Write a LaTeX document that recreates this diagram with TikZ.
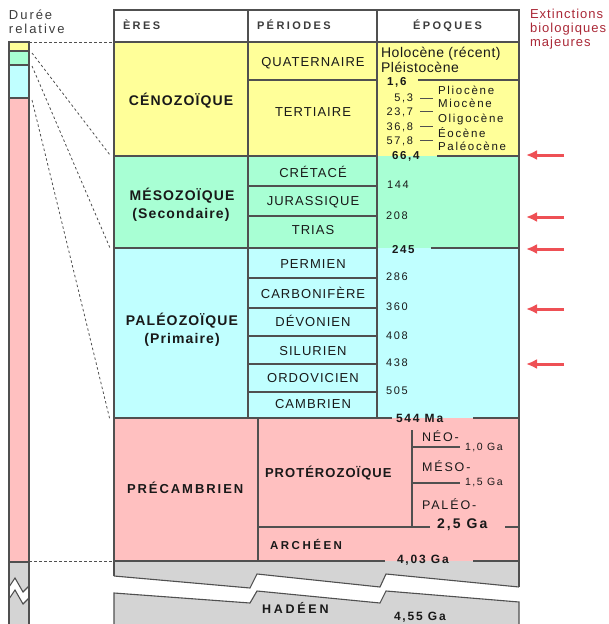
\documentclass[tikz,border=0pt]{standalone}
\usepackage{fontspec}
\setmainfont{Liberation Sans}
\newfontfamily\fA[LetterSpace=8]{Liberation Sans}
\newfontfamily\fB[LetterSpace=15]{Liberation Sans}
\newfontfamily\fC[LetterSpace=22]{Liberation Sans}
\newfontfamily\fD[LetterSpace=4]{Liberation Sans}
\newcommand{\myfs}[1]{\fontsize{#1}{#1}\selectfont}
\usetikzlibrary{arrows.meta}
\definecolor{cyel}{RGB}{255,255,153}
\definecolor{cgrn}{RGB}{168,255,212}
\definecolor{ccyn}{RGB}{192,255,255}
\definecolor{cpnk}{RGB}{255,192,192}
\definecolor{cgry}{RGB}{212,212,212}
\definecolor{cln}{RGB}{80,80,80}
\definecolor{cred}{RGB}{238,80,85}
\definecolor{cext}{RGB}{170,40,55}
\definecolor{ctxt}{RGB}{25,25,25}
\definecolor{chd}{RGB}{60,60,60}
\tikzset{
  lbl/.style={inner sep=0pt, outer sep=0pt, text=ctxt},
  tline/.style={draw=cln, line width=1.1pt},
  dline/.style={draw=cln, line width=0.8pt, dash pattern=on 2.5pt off 2.5pt},
  redarrow/.style={draw=cred, line width=3pt, -{Latex[length=11pt,width=10pt]}},
}
\begin{document}
\begin{tikzpicture}[x=1pt,y=-1pt]
\useasboundingbox (0,0) rectangle (609,624);
% ---------- fills of main table
\fill[white] (114,10) rectangle (519,42);
\fill[cyel] (114,42) rectangle (519,156);
\fill[cgrn] (114,156) rectangle (519,248);
\fill[ccyn] (114,248) rectangle (519,418);
\fill[cpnk] (114,418) rectangle (519,561);
\fill[cgry] (114,561) -- (519,561) -- (519,587) -- (386,574) -- (380,587) -- (257,574) -- (250,588) -- (114,576) -- cycle;
\fill[cgry] (114,593) -- (250,603) -- (257,591) -- (380,603) -- (386,591) -- (519,602) -- (519,624) -- (114,624) -- cycle;
% ---------- outline
\draw[tline] (114,576) -- (114,10) -- (519,10) -- (519,587);
\draw[tline] (114,576) -- (250,588) -- (257,574) -- (380,587) -- (386,574) -- (519,587);
\draw[tline] (114,624) -- (114,593) -- (250,603) -- (257,591) -- (380,603) -- (386,591) -- (519,602) -- (519,624);
\draw[tline] (114,42) -- (519,42);
\draw[tline] (248,10) -- (248,418);
\draw[tline] (377,10) -- (377,418);
% era lines
\draw[tline] (114,156) -- (377,156);
\draw[tline] (437,156) -- (519,156);
\draw[tline] (114,248) -- (377,248);
\draw[tline] (431,248) -- (519,248);
\draw[tline] (114,418) -- (392,418);
\draw[tline] (473,418) -- (519,418);
\draw[tline] (114,561) -- (385,561);
\draw[tline] (473,561) -- (519,561);
% period lines
\draw[tline] (248,80) -- (377,80);
\draw[tline] (418,80) -- (519,80);
\foreach \yy in {186,216,278,308,336,364,392} {\draw[tline] (248,\yy) -- (377,\yy);}
% epoch dashes
\foreach \yy in {98,111,126,140} {\draw[draw=cln, line width=1pt] (420,\yy) -- (433,\yy);}
% precambrian inner lines
\draw[tline] (258,418) -- (258,561);
\draw[tline] (258,527) -- (430,527);
\draw[tline] (505,527) -- (519,527);
\draw[tline] (412,430) -- (412,527);
\draw[tline] (412,447) -- (460,447);
\draw[tline] (412,483) -- (460,483);
% ---------- left bar
\fill[cyel] (9,42) rectangle (29,51);
\fill[cgrn] (9,51) rectangle (29,65);
\fill[ccyn] (9,65) rectangle (29,98);
\fill[cpnk] (9,98) rectangle (29,562);
\fill[cgry] (9,562) rectangle (29,624);
\fill[white] (9,587) -- (15,578) -- (23,592) -- (29,586) -- (29,598) -- (23,604) -- (15,590) -- (9,599) -- cycle;
\draw[tline] (9,587) -- (15,578) -- (23,592) -- (29,586);
\draw[tline] (9,599) -- (15,590) -- (23,604) -- (29,598);
\draw[tline] (9,624) -- (9,42) -- (29,42) -- (29,624);
\foreach \yy in {51,65,98,562} {\draw[tline] (9,\yy) -- (29,\yy);}
% dashed relations
\coordinate (b0) at (29,42);  \coordinate (t0) at (114,42);
\coordinate (b4) at (29,561); \coordinate (t4) at (114,561);
\coordinate (b1) at (32,53);  \coordinate (t1) at (110,155);
\coordinate (b2) at (32,66);  \coordinate (t2) at (110,248);
\coordinate (b3) at (32,100); \coordinate (t3) at (110,420);
\draw[dline] (b0) -- (t0);
\draw[dline] (b4) -- (t4);
\draw[dline] (b1) -- (t1);
\draw[dline] (b2) -- (t2);
\draw[dline] (b3) -- (t3);
% ---------- red arrows
\foreach \yy/\nm in {155/a,217/b,249/c,309/d,364/e} {
  \coordinate (s\nm) at (564,\yy);
  \coordinate (e\nm) at (526,\yy);
  \draw[redarrow] (s\nm) -- (e\nm);
}
% ---------- texts: top labels
\node[lbl, text=chd, anchor=base west] (dur1) at (9,19) {\fB\myfs{13}Durée};
\node[lbl, text=chd, anchor=base west] (dur2) at (9,33) {\fB\myfs{13}relative};
\node[lbl, text=cext, anchor=base west] (ext1) at (530,18) {\fA\myfs{13}Extinctions};
\node[lbl, text=cext, anchor=base west] (ext2) at (530,32) {\fA\myfs{13}biologiques};
\node[lbl, text=cext, anchor=base west] (ext3) at (530,46) {\fA\myfs{13}majeures};
% header
\node[lbl, text=chd, anchor=base west] (hE) at (123,29) {\fC\myfs{11}\bfseries ÈRES};
\node[lbl, text=chd, anchor=base west] (hP) at (257,29) {\fC\myfs{11}\bfseries PÉRIODES};
\node[lbl, text=chd, anchor=base west] (hQ) at (413,29) {\fC\myfs{11}\bfseries ÉPOQUES};
% eras
\node[lbl, anchor=base] (eC) at (181,105) {\fA\myfs{14}\bfseries CÉNOZOÏQUE};
\node[lbl, anchor=base] (eM) at (182,200) {\fA\myfs{14}\bfseries MÉSOZOÏQUE};
\node[lbl, anchor=base] (eM2) at (181,218) {\fA\myfs{14}\bfseries (Secondaire)};
\node[lbl, anchor=base] (eP) at (182,325) {\fA\myfs{14}\bfseries PALÉOZOÏQUE};
\node[lbl, anchor=base] (eP2) at (182,343) {\fA\myfs{14}\bfseries (Primaire)};
\node[lbl, anchor=base west] (ePc) at (127,493) {\fB\myfs{13}\bfseries PRÉCAMBRIEN};
% periods
\foreach \yy/\tx/\nm in {66.7/QUATERNAIRE/p1, 116.7/TERTIAIRE/p2, 177.7/CRÉTACÉ/p3, 205.7/JURASSIQUE/p4, 234.7/TRIAS/p5, 268.7/PERMIEN/p6, 298.7/CARBONIFÈRE/p7, 326.7/DÉVONIEN/p8, 355.7/SILURIEN/p9, 382.7/ORDOVICIEN/p10, 408.7/CAMBRIEN/p11} {
  \node[lbl, anchor=base] (\nm) at (313,\yy) {\fA\myfs{13}\tx};
}
% epochs (Cenozoic)
\node[lbl, anchor=base west] (ho) at (381,57) {\fD\myfs{14}Holocène (récent)};
\node[lbl, anchor=base west] (pl) at (381,72) {\fD\myfs{14}Pléistocène};
\node[lbl, anchor=base west] (n16) at (387,85.5) {\fB\myfs{11.5}\bfseries 1,6};
\node[lbl, anchor=base west] (ep1) at (438,94) {\fB\myfs{11.5}Pliocène};
\node[lbl, anchor=base west] (ep2) at (438,107.5) {\fB\myfs{11.5}Miocène};
\node[lbl, anchor=base west] (ep3) at (438,122.5) {\fB\myfs{11.5}Oligocène};
\node[lbl, anchor=base west] (ep4) at (438,137) {\fB\myfs{11.5}Éocène};
\node[lbl, anchor=base west] (ep5) at (438,150.7) {\fB\myfs{11.5}Paléocène};
\node[lbl, anchor=base east] (n53) at (413,101) {\fB\myfs{11}5,3};
\node[lbl, anchor=base east] (n237) at (413,115) {\fB\myfs{11}23,7};
\node[lbl, anchor=base east] (n368) at (413,130) {\fB\myfs{11}36,8};
\node[lbl, anchor=base east] (n578) at (413,144) {\fB\myfs{11}57,8};
\node[lbl, anchor=base west] (n664) at (392,159.5) {\fB\myfs{11.5}\bfseries 66,4};
% Mesozoic / Paleozoic numbers
\node[lbl, anchor=base west] (n144) at (387,188.5) {\fB\myfs{11}144};
\node[lbl, anchor=base west] (n208) at (386,219) {\fB\myfs{11}208};
\node[lbl, anchor=base west] (n245) at (392,253) {\fB\myfs{11.5}\bfseries 245};
\node[lbl, anchor=base west] (n286) at (386,280) {\fB\myfs{11}286};
\node[lbl, anchor=base west] (n360) at (386,310) {\fB\myfs{11}360};
\node[lbl, anchor=base west] (n408) at (386,339.5) {\fB\myfs{11}408};
\node[lbl, anchor=base west] (n438) at (386,366) {\fB\myfs{11}438};
\node[lbl, anchor=base west] (n505) at (386,394) {\fB\myfs{11}505};
\node[lbl, anchor=base west] (n544) at (396,422) {\fB\myfs{12}\bfseries 544 Ma};
% Precambrian
\node[lbl, anchor=base west] (pro) at (265,477.7) {\fA\myfs{13}\bfseries PROTÉROZOÏQUE};
\node[lbl, anchor=base west] (neo) at (422,441.7) {\fB\myfs{12.5}NÉO-};
\node[lbl, anchor=base west] (g10) at (465,450.7) {\fB\myfs{10.5}1,0 Ga};
\node[lbl, anchor=base west] (meso) at (422,471.7) {\fB\myfs{12.5}MÉSO-};
\node[lbl, anchor=base west] (g15) at (465,485) {\fB\myfs{10.5}1,5 Ga};
\node[lbl, anchor=base west] (paleo) at (422,509) {\fB\myfs{12.5}PALÉO-};
\node[lbl, anchor=base west] (g25) at (437,528.3) {\fB\myfs{14}\bfseries 2,5 Ga};
\node[lbl, anchor=base west] (arc) at (270,549.3) {\fC\myfs{11.5}\bfseries ARCHÉEN};
\node[lbl, anchor=base west] (g403) at (397,563.3) {\fB\myfs{12}\bfseries 4,03 Ga};
\node[lbl, anchor=base west] (had) at (262,613.3) {\fC\myfs{12.5}\bfseries HADÉEN};
\node[lbl, anchor=base west] (g455) at (394,620.7) {\fB\myfs{12}\bfseries 4,55 Ga};
\end{tikzpicture}
\end{document}
